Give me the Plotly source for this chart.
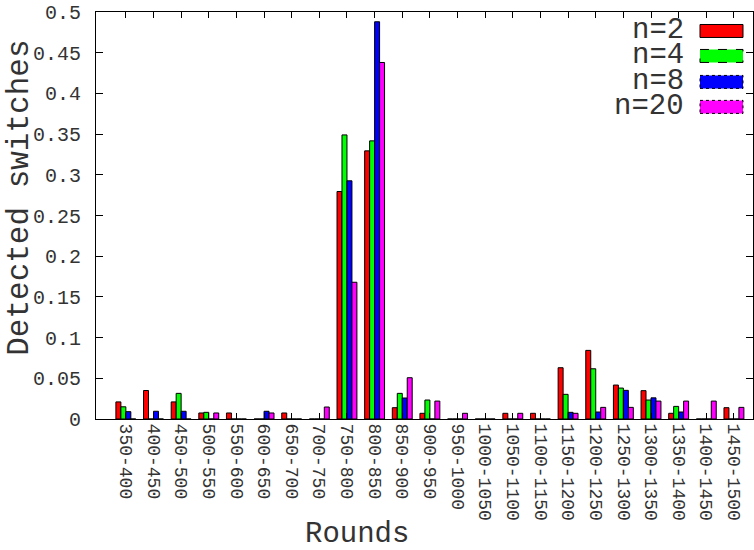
import plotly.graph_objects as go

categories = ["350-400", "400-450", "450-500", "500-550", "550-600", "600-650",
              "650-700", "700-750", "750-800", "800-850", "850-900", "900-950",
              "950-1000", "1000-1050", "1050-1100", "1100-1150", "1150-1200",
              "1200-1250", "1250-1300", "1300-1350", "1350-1400", "1400-1450",
              "1450-1500"]

n2 = [0.021, 0.035, 0.021, 0.0074, 0.0074, 0.0, 0.0074, 0.0, 0.2795, 0.3294,
      0.0139, 0.007, 0.0, 0.0, 0.007, 0.007, 0.063, 0.0843, 0.0417, 0.0348,
      0.007, 0.0, 0.0139]
n4 = [0.015, 0.0, 0.0315, 0.0082, 0.0, 0.0, 0.0, 0.0, 0.349, 0.3417,
      0.0315, 0.0233, 0.0, 0.0, 0.0, 0.0, 0.0303, 0.0617, 0.038, 0.0233,
      0.0155, 0.0, 0.0]
n8 = [0.009, 0.0095, 0.0095, 0.0, 0.0, 0.0095, 0.0, 0.0, 0.2926, 0.488,
      0.0258, 0.0, 0.0, 0.0, 0.0, 0.0, 0.0082, 0.0086, 0.0352, 0.026,
      0.0086, 0.0, 0.0]
n20 = [0.0, 0.0, 0.0, 0.0074, 0.0, 0.0074, 0.0, 0.0147, 0.168, 0.438,
       0.0507, 0.022, 0.007, 0.0, 0.007, 0.0, 0.007, 0.0143, 0.0143, 0.022,
       0.022, 0.022, 0.0143]

series = [("n=2", n2, "#ff0000", "solid"),
          ("n=4", n4, "#00ff00", "dash"),
          ("n=8", n8, "#0000ff", "dot"),
          ("n=20", n20, "#ff00ff", "dot")]

FONT = "Liberation Mono"
TXT = "#333333"
W, H = 754, 550
ml, mr, mt, mb = 96, 1, 12, 130.5
pw = W - ml - mr
ph = H - mt - mb


def px_x(px):
    return (px - ml) / pw


def px_y(py):
    return (H - mb - py) / ph


fig = go.Figure()
for name, vals, col, dash in series:
    fig.add_trace(go.Bar(x=list(range(len(categories))), y=vals, name=name,
                         marker=dict(color=col, line=dict(color="black", width=1)),
                         showlegend=False))

# custom legend (text left of swatch, like gnuplot)
rows = [31, 56, 82, 107]
shapes = []
annotations = []
for (name, vals, col, dash), py in zip(series, rows):
    yc = px_y(py)
    hh = 6.5 / ph
    shapes.append(dict(type="rect", xref="paper", yref="paper",
                       x0=px_x(700), x1=px_x(743), y0=yc - hh, y1=yc + hh,
                       fillcolor=col, line=dict(color="black", width=1, dash=dash)))
    annotations.append(dict(text=name, xref="paper", yref="paper",
                            x=px_x(686), y=yc, xanchor="right", yanchor="middle",
                            showarrow=False, font=dict(family=FONT, size=29, color=TXT)))

annotations.append(dict(text="Rounds", xref="paper", yref="paper",
                        x=px_x(357), y=px_y(535), xanchor="center", yanchor="middle",
                        showarrow=False, font=dict(family=FONT, size=29, color=TXT)))
annotations.append(dict(text="Detected switches", xref="paper", yref="paper",
                        x=px_x(20), y=px_y(198), xanchor="center", yanchor="middle",
                        textangle=-90, showarrow=False,
                        font=dict(family=FONT, size=31, color=TXT)))

fig.update_layout(
    width=W, height=H,
    margin=dict(l=ml, r=mr, t=mt, b=mb, autoexpand=False),
    plot_bgcolor="white", paper_bgcolor="white",
    barmode="group", bargap=0.28, bargroupgap=0,
    shapes=shapes, annotations=annotations,
    font=dict(family=FONT, color=TXT),
)
fig.update_xaxes(
    tickmode="array", tickvals=list(range(len(categories))), ticktext=categories,
    tickangle=90, range=[-1.08, 22.69], automargin=False,
    showline=True, linecolor="black", linewidth=1, mirror="ticks",
    ticks="inside", ticklen=6, tickcolor="black",
    showgrid=False, zeroline=False,
    tickfont=dict(family=FONT, size=18, color=TXT),
)
fig.update_yaxes(
    range=[0, 0.5], tickmode="linear", tick0=0, dtick=0.05, automargin=False,
    showline=True, linecolor="black", linewidth=1, mirror="ticks",
    ticks="inside", ticklen=7, tickcolor="black",
    showgrid=False, zeroline=False, ticklabelstandoff=10,
    ticklabeloverflow="allow",
    tickfont=dict(family=FONT, size=20, color=TXT),
)

fig.write_html("out.html", config={"displayModeBar": False},
               post_script="document.body.style.margin='0';")
